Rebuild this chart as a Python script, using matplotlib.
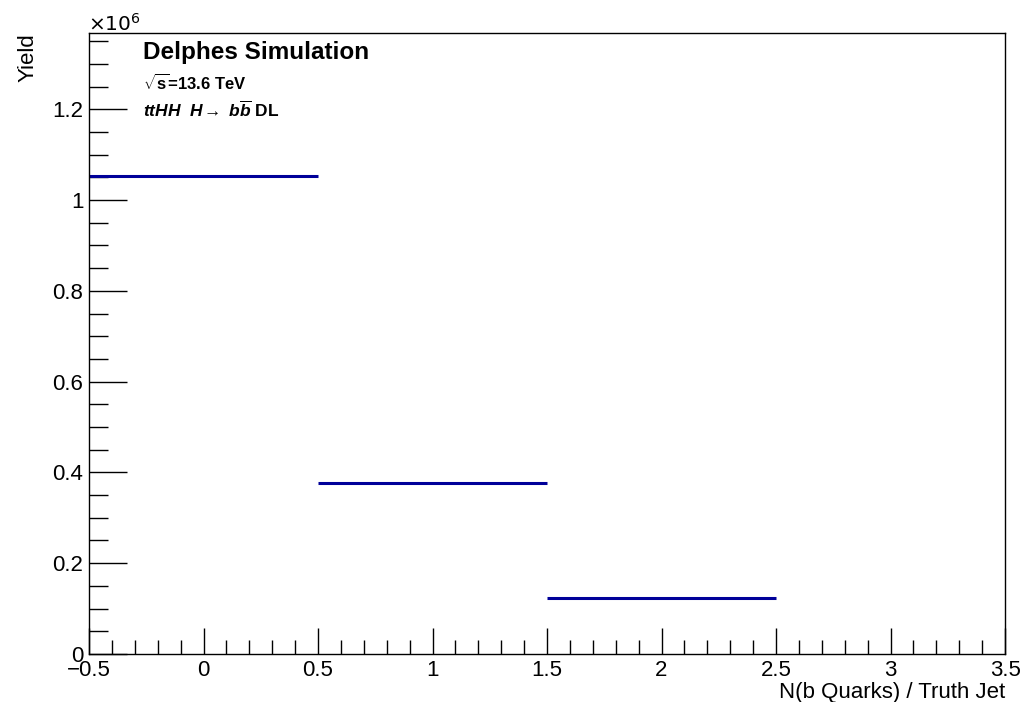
import numpy as np
import matplotlib
matplotlib.use("Agg")
from matplotlib import pyplot as plt
from matplotlib.ticker import MultipleLocator, FuncFormatter

# bin centres and yields
bin_centers = [0, 1, 2]
bin_half_width = 0.5
yields = [1.053e6, 0.3765e6, 0.1230e6]

plt.rcParams['font.family'] = ['Liberation Sans', 'DejaVu Sans']
plt.rcParams['mathtext.fontset'] = 'custom'
plt.rcParams['mathtext.rm'] = 'Liberation Sans:bold'
plt.rcParams['mathtext.it'] = 'Liberation Sans:bold:italic'
plt.rcParams['mathtext.bf'] = 'Liberation Sans:bold'

fig = plt.figure(figsize=(10.23, 7.02), dpi=100)
ax = fig.add_axes([0.087, 0.0684, 0.8955, 0.8846])

y = np.array(yields)
ax.errorbar(bin_centers, y, xerr=bin_half_width, yerr=np.sqrt(y),
            fmt='none', ecolor='#000099', elinewidth=2.2, capsize=0)

ax.set_xlim(-0.5, 3.5)
ax.set_ylim(0, 1.368e6)

ax.xaxis.set_major_locator(MultipleLocator(0.5))
ax.xaxis.set_minor_locator(MultipleLocator(0.1))
ax.yaxis.set_major_locator(MultipleLocator(0.2e6))
ax.yaxis.set_minor_locator(MultipleLocator(0.05e6))

ax.xaxis.set_major_formatter(FuncFormatter(lambda v, p: f"{v:g}".replace('-', '\u2212')))
ax.yaxis.set_major_formatter(FuncFormatter(lambda v, p: f"{v/1e6:g}"))

ax.tick_params(axis='x', which='major', direction='in', length=19, width=1, labelsize=16, pad=4)
ax.tick_params(axis='x', which='minor', direction='in', length=10, width=1)
ax.tick_params(axis='y', which='major', direction='in', length=27, width=1, labelsize=16, pad=4)
ax.tick_params(axis='y', which='minor', direction='in', length=14, width=1)
for s in ax.spines.values():
    s.set_linewidth(1)

fig.text(0.0865, (702 - 31) / 702, r'$\times10^{6}$', fontsize=14.5, ha='left', va='baseline',
         math_fontfamily='dejavusans')

ax.set_ylabel('Yield', fontsize=16, loc='top', labelpad=10)
ax.set_xlabel('N(b Quarks) / Truth Jet', fontsize=16, loc='right', labelpad=1)

ax.text(0.059, 0.968, 'Delphes Simulation', transform=ax.transAxes,
        fontsize=17.5, fontweight='bold', ha='left', va='center')
ax.text(0.059, 0.919, r'$\sqrt{\mathrm{s}}$=13.6 TeV', transform=ax.transAxes,
        fontsize=12, fontweight='bold', ha='left', va='center')
ax.text(0.059, 0.876, r'$ttHH\ \ H\!\rightarrow\ b\overline{b}$ DL', transform=ax.transAxes,
        fontsize=12.5, fontweight='bold', ha='left', va='center')

fig.savefig('out.png', dpi=100)
